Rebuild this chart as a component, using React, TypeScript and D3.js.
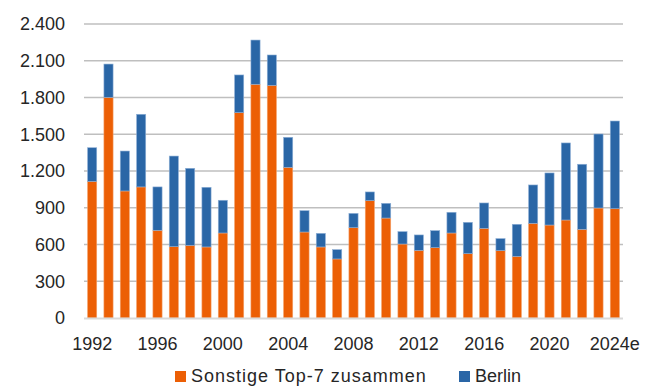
import React from "react";
import * as d3 from "d3";

const years = [
  "1992", "1993", "1994", "1995", "1996", "1997", "1998", "1999", "2000", "2001",
  "2002", "2003", "2004", "2005", "2006", "2007", "2008", "2009", "2010", "2011",
  "2012", "2013", "2014", "2015", "2016", "2017", "2018", "2019", "2020", "2021",
  "2022", "2023", "2024e",
];
const sonstige = [
  1115, 1801, 1037, 1070, 716, 582, 593, 580, 694, 1676,
  1908, 1899, 1230, 702, 580, 482, 737, 958, 816, 604,
  552, 574, 694, 525, 732, 550, 503, 773, 759, 800,
  724, 898, 892,
];
const total = [
  1390, 2073, 1363, 1663, 1070, 1322, 1222, 1067, 961, 1984,
  2269, 2147, 1475, 876, 691, 558, 854, 1029, 936, 705,
  678, 713, 863, 781, 939, 648, 765, 1086, 1184, 1429,
  1255, 1502, 1608,
];
const berlin = total.map((t, i) => t - sonstige[i]);
const yTicks = [0, 300, 600, 900, 1200, 1500, 1800, 2100, 2400];
const xLabelYears = ["1992", "1996", "2000", "2004", "2008", "2012", "2016", "2020", "2024e"];
const seriesNames = ["Sonstige Top-7 zusammen", "Berlin"];

const ORANGE = "#EC5F05";
const BLUE = "#2A66A6";
const TEXT = "#262626";
const FONT = "'Liberation Sans', Arial, sans-serif";
const FS = 18;

export default function App() {
  const W = 657, H = 387;
  const left = 84, right = 623, top = 24, bottom = 318;
  const x = d3.scaleBand<string>().domain(years).range([left, right]).paddingInner(0.44).paddingOuter(0.22);
  const y = d3.scaleLinear().domain([0, 2400]).range([bottom, top]);
  const fmt = (v: number) => d3.format(",")(v).replace(/,/g, ".");
  const stack = d3.stack<number>().keys([0, 1]).value((i, k) => (k === 0 ? sonstige[i] : berlin[i]));
  const series = stack(years.map((_, i) => i));
  const colors = [ORANGE, BLUE];

  return (
    <svg width={W} height={H} style={{ position: "absolute", left: 0, top: 0, background: "#fff" }}>
      {yTicks.slice(1).map((t) => (
        <line key={t} x1={left} x2={right} y1={y(t)} y2={y(t)} stroke="#BFBFBF" strokeWidth={1.5} />
      ))}
      {series.map((s, si) =>
        s.map((d, i) => (
          <rect
            key={`${si}-${i}`}
            x={x(years[i])}
            width={x.bandwidth()}
            y={y(d[1])}
            height={y(d[0]) - y(d[1])}
            fill={colors[si]}
            stroke={si === 0 ? "#F4A06A" : "#8FB0D6"}
            strokeWidth={0.6}
          />
        ))
      )}
      <line x1={left} x2={right} y1={y(0) + 0.5} y2={y(0) + 0.5} stroke="#D9D9D9" strokeWidth={2} />
      {yTicks.map((t) => (
        <text key={t} x={65} y={y(t) + 6.3} textAnchor="end" fontSize={FS} fontFamily={FONT} fill={TEXT}>
          {fmt(t)}
        </text>
      ))}
      {xLabelYears.map((yr) => (
        <text
          key={yr}
          x={(x(yr) as number) + x.bandwidth() / 2}
          y={350}
          textAnchor="middle"
          fontSize={FS}
          fontFamily={FONT}
          fill={TEXT}
        >
          {yr}
        </text>
      ))}
      <g>
        <rect x={175} y={371} width={11} height={11} fill={ORANGE} />
        <text x={191} y={381.5} fontSize={FS} fontFamily={FONT} fill={TEXT} letterSpacing={1}>{seriesNames[0]}</text>
        <rect x={459} y={371} width={11} height={11} fill={BLUE} />
        <text x={475} y={381.5} fontSize={FS} fontFamily={FONT} fill={TEXT}>{seriesNames[1]}</text>
      </g>
    </svg>
  );
}
